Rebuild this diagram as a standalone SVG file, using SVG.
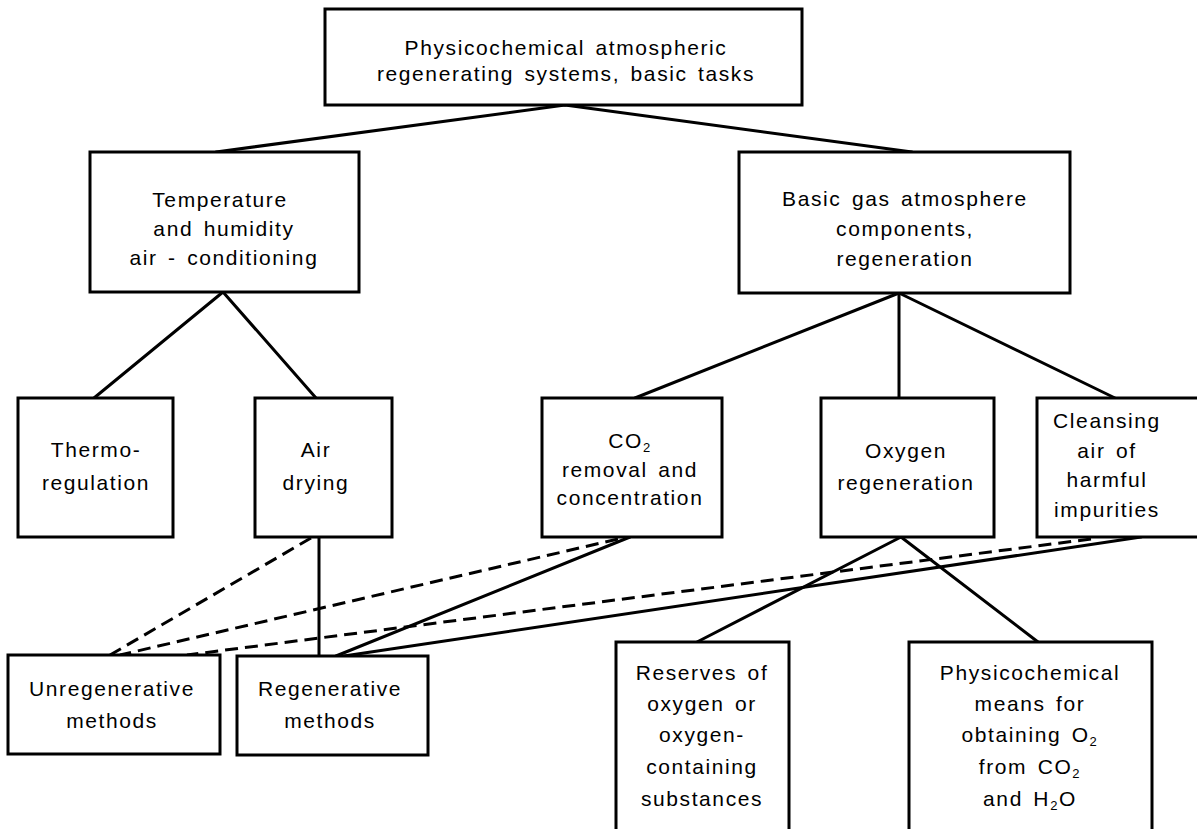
<svg xmlns="http://www.w3.org/2000/svg" width="1197" height="829" viewBox="0 0 1197 829">
<style>
  .box { fill: #fff; stroke: #000; stroke-width: 3; }
  .ln { stroke: #000; stroke-width: 3; fill: none; stroke-linecap: round; }
  .dash { stroke: #000; stroke-width: 3; fill: none; stroke-dasharray: 13 7; }
  text { font-family: "Liberation Sans", Arial, sans-serif; font-size: 21px; fill: #000; text-anchor: middle; letter-spacing: 1.6px; word-spacing: 3px; }
  .sub { font-size: 13px; }
</style>
<rect width="1197" height="829" fill="#fff"/>
<g id="connectors">
  <line class="ln" x1="565" y1="105" x2="216" y2="152"/>
  <line class="ln" x1="565" y1="105" x2="912" y2="152"/>
  <line class="ln" x1="223" y1="292" x2="94" y2="398"/>
  <line class="ln" x1="223" y1="292" x2="316" y2="398"/>
  <line class="ln" x1="899" y1="293" x2="635" y2="398"/>
  <line class="ln" x1="899" y1="293" x2="899" y2="398"/>
  <line class="ln" x1="899" y1="293" x2="1115" y2="398"/>
  <line class="ln" x1="319" y1="537" x2="319" y2="656"/>
  <line class="ln" x1="630" y1="537" x2="336" y2="656"/>
  <line class="ln" x1="1141" y1="537" x2="344" y2="656"/>
  <line class="ln" x1="901" y1="537" x2="697" y2="642"/>
  <line class="ln" x1="901" y1="537" x2="1038" y2="642"/>
  <line class="dash" x1="311" y1="538" x2="110" y2="655"/>
  <line class="dash" x1="618" y1="539" x2="120" y2="655"/>
  <line class="dash" x1="1091" y1="539" x2="187" y2="655"/>
</g>
<g id="n-top">
  <rect class="box" x="325" y="9" width="477" height="96"/>
  <text x="566" y="55">Physicochemical atmospheric</text>
  <text x="566" y="81">regenerating systems, basic tasks</text>
</g>
<g id="n-temp">
  <rect class="box" x="90" y="152" width="269" height="140"/>
  <text x="220" y="207">Temperature</text>
  <text x="224" y="236">and humidity</text>
  <text x="224" y="265">air - conditioning</text>
</g>
<g id="n-basic">
  <rect class="box" x="739" y="152" width="331" height="141"/>
  <text x="905" y="206">Basic gas atmosphere</text>
  <text x="905" y="236">components,</text>
  <text x="905" y="266">regeneration</text>
</g>
<g id="n-thermo">
  <rect class="box" x="18" y="398" width="155" height="139"/>
  <text x="96" y="457">Thermo-</text>
  <text x="96" y="490">regulation</text>
</g>
<g id="n-air">
  <rect class="box" x="255" y="398" width="137" height="139"/>
  <text x="316" y="457">Air</text>
  <text x="316" y="490">drying</text>
</g>
<g id="n-co2">
  <rect class="box" x="542" y="398" width="180" height="139"/>
  <text x="630" y="448">CO<tspan class="sub" dy="4">2</tspan></text>
  <text x="630" y="477">removal and</text>
  <text x="630" y="505">concentration</text>
</g>
<g id="n-oxygen">
  <rect class="box" x="821" y="398" width="173" height="139"/>
  <text x="906" y="458">Oxygen</text>
  <text x="906" y="490">regeneration</text>
</g>
<g id="n-cleansing">
  <rect class="box" x="1037" y="398" width="170" height="139"/>
  <text x="1107" y="428">Cleansing</text>
  <text x="1107" y="458">air of</text>
  <text x="1107" y="487">harmful</text>
  <text x="1107" y="517">impurities</text>
</g>
<g id="n-unregen">
  <rect class="box" x="8" y="655" width="212" height="99"/>
  <text x="112" y="696">Unregenerative</text>
  <text x="112" y="728">methods</text>
</g>
<g id="n-regen">
  <rect class="box" x="237" y="656" width="191" height="99"/>
  <text x="330" y="696">Regenerative</text>
  <text x="330" y="728">methods</text>
</g>
<g id="n-reserves">
  <rect class="box" x="616" y="642" width="173" height="200"/>
  <text x="702" y="680">Reserves of</text>
  <text x="702" y="711">oxygen or</text>
  <text x="702" y="742">oxygen-</text>
  <text x="702" y="774">containing</text>
  <text x="702" y="806">substances</text>
</g>
<g id="n-physico">
  <rect class="box" x="909" y="642" width="243" height="200"/>
  <text x="1030" y="680">Physicochemical</text>
  <text x="1030" y="711">means for</text>
  <text x="1030" y="742">obtaining O<tspan class="sub" dy="4">2</tspan></text>
  <text x="1030" y="774">from CO<tspan class="sub" dy="4">2</tspan></text>
  <text x="1030" y="806">and H<tspan class="sub" dy="4">2</tspan><tspan dy="-4">O</tspan></text>
</g>
</svg>
